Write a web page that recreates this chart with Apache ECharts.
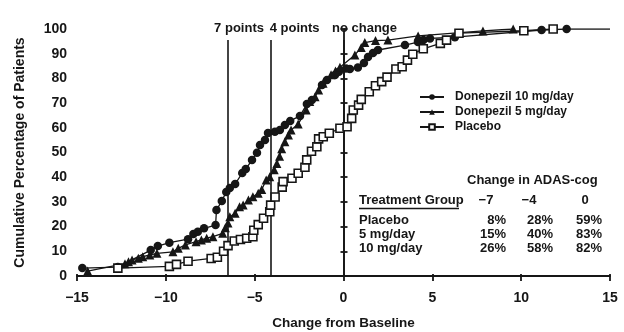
<!DOCTYPE html>
<html>
<head>
<meta charset="utf-8">
<script src="https://cdn.jsdelivr.net/npm/echarts@6/dist/echarts.min.js"></script>
<style>
  html, body { margin: 0; padding: 0; background: #fff; }
  #chart { width: 624px; height: 332px; }
</style>
</head>
<body>
<div id="chart"></div>
<script>
// Cumulative percentage of patients by change from baseline (ADAS-cog)
const dose10 = [
  [-14.7, 3.2], [-12.7, 3.6], [-10.85, 10.5], [-10.45, 12.1], [-9.8, 13.5], [-8.75, 14.9],
  [-8.45, 17.0], [-8.2, 17.9], [-7.85, 19.3], [-7.2, 20.6], [-7.15, 26.7], [-6.85, 30.4],
  [-6.6, 34.0], [-6.4, 35.6], [-6.1, 37.2], [-5.7, 41.7], [-5.5, 43.3], [-5.15, 47.0],
  [-4.87, 49.9], [-4.7, 53.0], [-4.42, 55.1], [-4.25, 57.9], [-3.86, 58.4], [-3.58, 59.1],
  [-3.3, 61.1], [-3.0, 62.8], [-2.45, 64.8], [-2.06, 69.6], [-1.78, 71.3], [-1.21, 77.3],
  [-0.93, 79.4], [-0.48, 81.4], [-0.26, 82.7], [0.14, 84.0], [0.36, 83.8], [0.81, 84.4],
  [1.15, 86.2], [1.38, 88.7], [1.66, 90.3], [1.94, 91.5], [3.46, 93.5], [4.19, 94.7],
  [4.5, 95.5], [4.87, 96.2], [6.27, 96.7], [11.15, 99.6], [12.56, 100]
];
const dose10Tail = [15, 100];

const dose5 = [
  [-14.4, 2.0], [-12.3, 5.0], [-12.1, 5.8], [-11.9, 6.5], [-11.55, 7.2], [-11.3, 7.8],
  [-10.9, 8.5], [-10.5, 9.2], [-9.6, 9.8], [-9.3, 11.2], [-8.9, 12.6], [-8.3, 13.9],
  [-8.0, 14.6], [-7.7, 15.3], [-7.35, 15.9], [-6.8, 17.3], [-6.65, 19.5], [-6.5, 21.5],
  [-6.4, 24.0], [-6.1, 25.4], [-5.85, 28.0], [-5.65, 28.7], [-5.35, 30.8], [-5.1, 32.1],
  [-4.8, 33.5], [-4.6, 35.0], [-4.35, 38.9], [-4.15, 40.2], [-3.9, 43.0], [-3.75, 45.5],
  [-3.6, 48.5], [-3.48, 51.5], [-3.3, 54.4], [-3.1, 57.1], [-2.95, 59.1], [-2.55, 61.5],
  [-2.1, 67.2], [-1.9, 70.6], [-1.6, 72.6], [-1.4, 75.3], [-1.15, 78.0], [-0.7, 81.5],
  [-0.45, 83.0], [-0.2, 84.5], [0.64, 89.5], [1.0, 92.5], [1.2, 94.5], [1.8, 95.3],
  [2.5, 95.5], [4.2, 97.2], [7.85, 99.2], [9.55, 100]
];

const placebo = [
  [-12.7, 3.2], [-9.8, 3.9], [-9.4, 4.7], [-8.75, 6.0], [-7.45, 7.1], [-7.1, 7.6],
  [-6.75, 10.0], [-6.5, 12.3], [-6.15, 14.2], [-5.8, 14.8], [-5.45, 15.3], [-5.1, 15.9],
  [-5.05, 18.5], [-4.8, 20.8], [-4.5, 23.4], [-4.15, 26.0], [-4.1, 28.7], [-3.85, 32.0],
  [-3.45, 36.0], [-3.4, 38.2], [-2.9, 39.6], [-2.55, 41.6], [-2.17, 44.0], [-2.07, 47.0],
  [-1.8, 50.5], [-1.5, 52.3], [-1.4, 55.5], [-1.14, 56.4], [-0.8, 57.8], [-0.2, 59.8],
  [0.2, 60.4], [0.46, 63.8], [0.55, 67.2], [0.85, 69.2], [1.0, 71.5], [1.45, 74.6],
  [1.8, 77.0], [2.15, 78.7], [2.45, 80.5], [2.95, 83.8], [3.3, 84.7], [3.6, 87.4],
  [3.9, 89.8], [4.49, 92.0], [5.45, 94.2], [5.8, 95.5], [6.5, 98.3], [10.15, 99.3],
  [11.8, 100]
];

// Reference thresholds (vertical lines) and their captions
const refLines = [-6.5, -4.1, 0];
const refLabels = ['7 points', '4 points', 'no change'];
const refLineTop = 95.5;

// Summary table
const tableTitle = 'Change in ADAS-cog';
const tableHeader = 'Treatment Group';
const tableCols = ['\u22127', '\u22124', '0'];
const tableRows = ['Placebo', '5 mg/day', '10 mg/day'];
const tableValues = [[8, 28, 59], [15, 40, 83], [26, 58, 82]];

const seriesNames = ['Donepezil 10 mg/day', 'Donepezil 5 mg/day', 'Placebo'];

const FONT = "'Liberation Sans', Arial, sans-serif";
const INK = '#161616';

const chart = echarts.init(document.getElementById('chart'), null, { renderer: 'canvas' });

const minus = v => String(v).replace('-', '\u2212');

// Table drawn as graphic text
const tableGraphic = [];
const colRight = [506, 553, 602];
const colHeadCenter = [486, 529, 585];
const rowY = [220, 234, 248];
const textItem = (text, x, y, align) => ({
  type: 'text', x, y,
  style: { text, fill: INK, font: `bold 13px ${FONT}`, align, verticalAlign: 'middle' },
  silent: true
});
tableGraphic.push(textItem(tableTitle, 467, 180, 'left'));
tableGraphic.push(textItem(tableHeader, 359, 200, 'left'));
tableGraphic.push({
  type: 'line', shape: { x1: 359, y1: 208.5, x2: 459, y2: 208.5 },
  style: { stroke: INK, lineWidth: 1.3 }, silent: true
});
tableCols.forEach((c, i) => tableGraphic.push(textItem(c, colHeadCenter[i], 200, 'center')));
tableRows.forEach((r, ri) => {
  tableGraphic.push(textItem(r, 359, rowY[ri], 'left'));
  tableValues[ri].forEach((v, ci) => tableGraphic.push(textItem(v + '%', colRight[ci], rowY[ri], 'right')));
});

const refOffsets = [11, 24, 21];
const markLineData = refLines.map((x, i) => [
  {
    coord: [x, 0], name: refLabels[i],
    label: { show: true, position: 'end', formatter: refLabels[i], offset: [refOffsets[i], 0],
             color: INK, fontFamily: FONT, fontWeight: 'bold', fontSize: 13, distance: 5 }
  },
  { coord: [x, refLineTop] }
]);

const axisFont = { color: INK, fontFamily: FONT, fontWeight: 'bold', fontSize: 14 };

const option = {
  animation: false,
  backgroundColor: '#fff',
  grid: { left: 77, right: 14, top: 29, bottom: 56, containLabel: false, outerBoundsMode: 'none' },
  legend: {
    orient: 'vertical', left: 419, top: 91, padding: 0,
    itemWidth: 24, itemHeight: 7, itemGap: 3,
    data: seriesNames,
    textStyle: { color: INK, fontFamily: FONT, fontWeight: 'bold', fontSize: 12, padding: [0, 0, 0, 6], lineHeight: 12 }
  },
  xAxis: [
    {
      type: 'value', min: -15, max: 15, interval: 5,
      name: 'Change from Baseline', nameLocation: 'middle', nameGap: 40,
      nameTextStyle: { color: INK, fontFamily: FONT, fontWeight: 'bold', fontSize: 13.5 },
      axisLine: { show: true, onZero: false, lineStyle: { color: INK, width: 1.8 } },
      axisTick: { show: true, length: 5, lineStyle: { color: INK, width: 1.8 } },
      axisLabel: Object.assign({ margin: 15, formatter: minus }, axisFont),
      splitLine: { show: false }
    },
    {
      type: 'value', min: -15, max: 15, interval: 5, position: 'bottom',
      axisLine: { show: false },
      axisTick: { show: true, inside: true, length: 2, lineStyle: { color: INK, width: 1.8 } },
      axisLabel: { show: false }, splitLine: { show: false }
    }
  ],
  yAxis: [
    {
      type: 'value', min: 0, max: 100, interval: 10,
      name: 'Cumulative Percentage of Patients', nameLocation: 'middle', nameGap: 50,
      nameTextStyle: { color: INK, fontFamily: FONT, fontWeight: 'bold', fontSize: 14 },
      axisLine: { show: true, lineStyle: { color: INK, width: 1.8 } },
      axisTick: { show: true, length: 3, lineStyle: { color: INK, width: 1.8 } },
      axisLabel: Object.assign({ margin: 10 }, axisFont),
      splitLine: { show: false }
    },
    {
      type: 'value', min: 0, max: 100, interval: 10, position: 'left',
      axisLine: { show: false },
      axisTick: { show: true, inside: true, length: 4, lineStyle: { color: INK, width: 1.8 } },
      axisLabel: { show: false }, splitLine: { show: false }
    }
  ],
  series: [
    {
      name: seriesNames[0], type: 'line',
      data: dose10.map(p => ({ value: p })).concat([{ value: dose10Tail, symbol: 'none' }]),
      symbol: 'circle', symbolSize: 8.5,
      itemStyle: { color: INK },
      lineStyle: { color: INK, width: 1.3 },
      z: 3,
      markLine: {
        silent: true, symbol: ['none', 'none'], animation: false,
        lineStyle: { color: INK, width: 1.6, type: 'solid' },
        emphasis: { disabled: true },
        data: markLineData
      }
    },
    {
      name: seriesNames[1], type: 'line', data: dose5,
      symbol: 'triangle', symbolSize: 9,
      itemStyle: { color: INK },
      lineStyle: { color: INK, width: 1.3 },
      z: 4
    },
    {
      name: seriesNames[2], type: 'line', data: placebo,
      symbol: 'rect', symbolSize: 8,
      itemStyle: { color: '#fff', borderColor: INK, borderWidth: 1.6 },
      lineStyle: { color: INK, width: 1.3 },
      z: 5
    }
  ],
  graphic: tableGraphic
};

chart.setOption(option);
</script>
</body>
</html>
